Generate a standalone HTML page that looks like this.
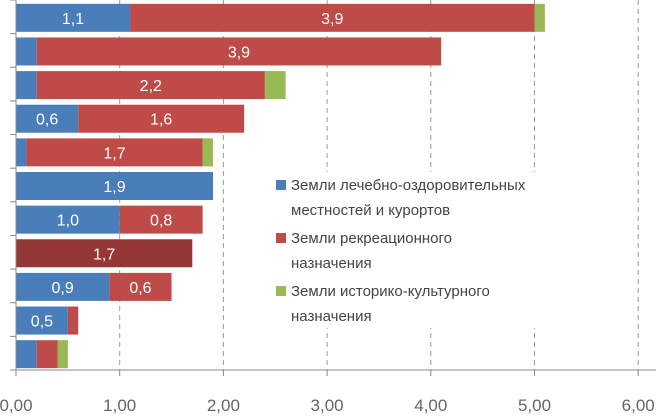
<!DOCTYPE html>
<html><head><meta charset="utf-8"><style>
body{margin:0;background:#fff;width:656px;height:414px;overflow:hidden}
svg text{font-family:"Liberation Sans","DejaVu Sans",sans-serif}
</style></head><body>
<svg id="chart" width="656" height="414" xmlns="http://www.w3.org/2000/svg"></svg>
<script>
const categories=["r1","r2","r3","r4","r5","r6","r7","r8","r9","r10","r11"];
const blueVals=[1.1,0.2,0.2,0.6,0.1,1.9,1.0,0,0.9,0.5,0.2];
const redVals=[3.9,3.9,2.2,1.6,1.7,0,0.8,0,0.6,0.1,0.2];
const greenVals=[0.1,0,0.2,0,0.1,0,0,0,0,0,0.1];
const darkVals=[0,0,0,0,0,0,0,1.7,0,0,0];
const blueLabels=["1,1","","","0,6","","1,9","1,0","","0,9","0,5",""];
const redLabels=["3,9","3,9","2,2","1,6","1,7","","0,8","","0,6","",""];
const darkLabels=["","","","","","","","1,7","","",""];
const xTicks=[0,1,2,3,4,5,6];
const xTickLabels=["0,00","1,00","2,00","3,00","4,00","5,00","6,00"];
const legendLabels=[["Земли лечебно-оздоровительных","местностей и курортов"],["Земли рекреационного","назначения"],["Земли историко-культурного","назначения"]];
const legendColors=["#4a7ebb","#be4b48","#98b954"];

const svg=document.getElementById('chart');
const NS="http://www.w3.org/2000/svg";
const x0=16,scale=103.7,topY=0,bottomY=370;
const band=(bottomY-topY)/categories.length,barH=28;
const X=v=>x0+v*scale;
const Y=i=>topY+i*band+(band-barH)/2+1;
function mk(t,a){const e=document.createElementNS(NS,t);for(const k in a)e.setAttribute(k,a[k]);svg.appendChild(e);return e;}
xTicks.forEach((t,i)=>{
  if(t>0){const g=mk('line',{x1:X(t),x2:X(t),y1:0,y2:bottomY,stroke:'#999','stroke-dasharray':'5,4','stroke-width':1});
  
  }
  const tx=mk('text',{x:X(t),y:411,'text-anchor':'middle','font-size':17,fill:'#666'});
  tx.textContent=xTickLabels[i];
  
  
});
categories.forEach((c,i)=>{
  const segs=[[blueVals[i],'#4a7ebb',blueLabels[i]],[redVals[i],'#be4b48',redLabels[i]],[greenVals[i],'#98b954',''],[darkVals[i],'#953735',darkLabels[i]]];
  let acc=0;
  segs.forEach((s,j)=>{
    if(s[0]<=0)return;
    const r=mk('rect',{x:X(acc),y:Y(i),width:s[0]*scale,height:barH,fill:s[1]});
    
    
    if(s[2]){const t=mk('text',{x:X(acc+s[0]/2),y:Y(i)+barH/2+6,'text-anchor':'middle','font-size':16,fill:'#fff'});
      t.textContent=s[2];
      
      }
    acc+=s[0];
  });
});
for(let i=0;i<=categories.length;i++){
  const tk=mk('line',{x1:10,x2:16,y1:topY+i*band,y2:topY+i*band,stroke:'#888'});
  
  
}
const ya=mk('line',{x1:16,x2:16,y1:0,y2:bottomY+6,stroke:'#888'});


const xa=mk('line',{x1:10,x2:656,y1:bottomY,y2:bottomY,stroke:'#888'});


xTicks.forEach(t=>{const l=mk('line',{x1:X(t),x2:X(t),y1:bottomY,y2:bottomY+6,stroke:'#888'});
  
  });
const lg=mk('rect',{x:266,y:172,width:300,height:156,fill:'#fff'});


legendLabels.forEach((ls,i)=>{
  const y=190+i*53;
  const s=mk('rect',{x:276,y:y-10,width:10,height:10,fill:legendColors[i]});
  
  
  ls.forEach((l,k)=>{const t=mk('text',{x:291,y:y+k*25,'font-size':15,fill:'#444'});
    t.textContent=l;
    
    });
});
</script>
</body></html>
